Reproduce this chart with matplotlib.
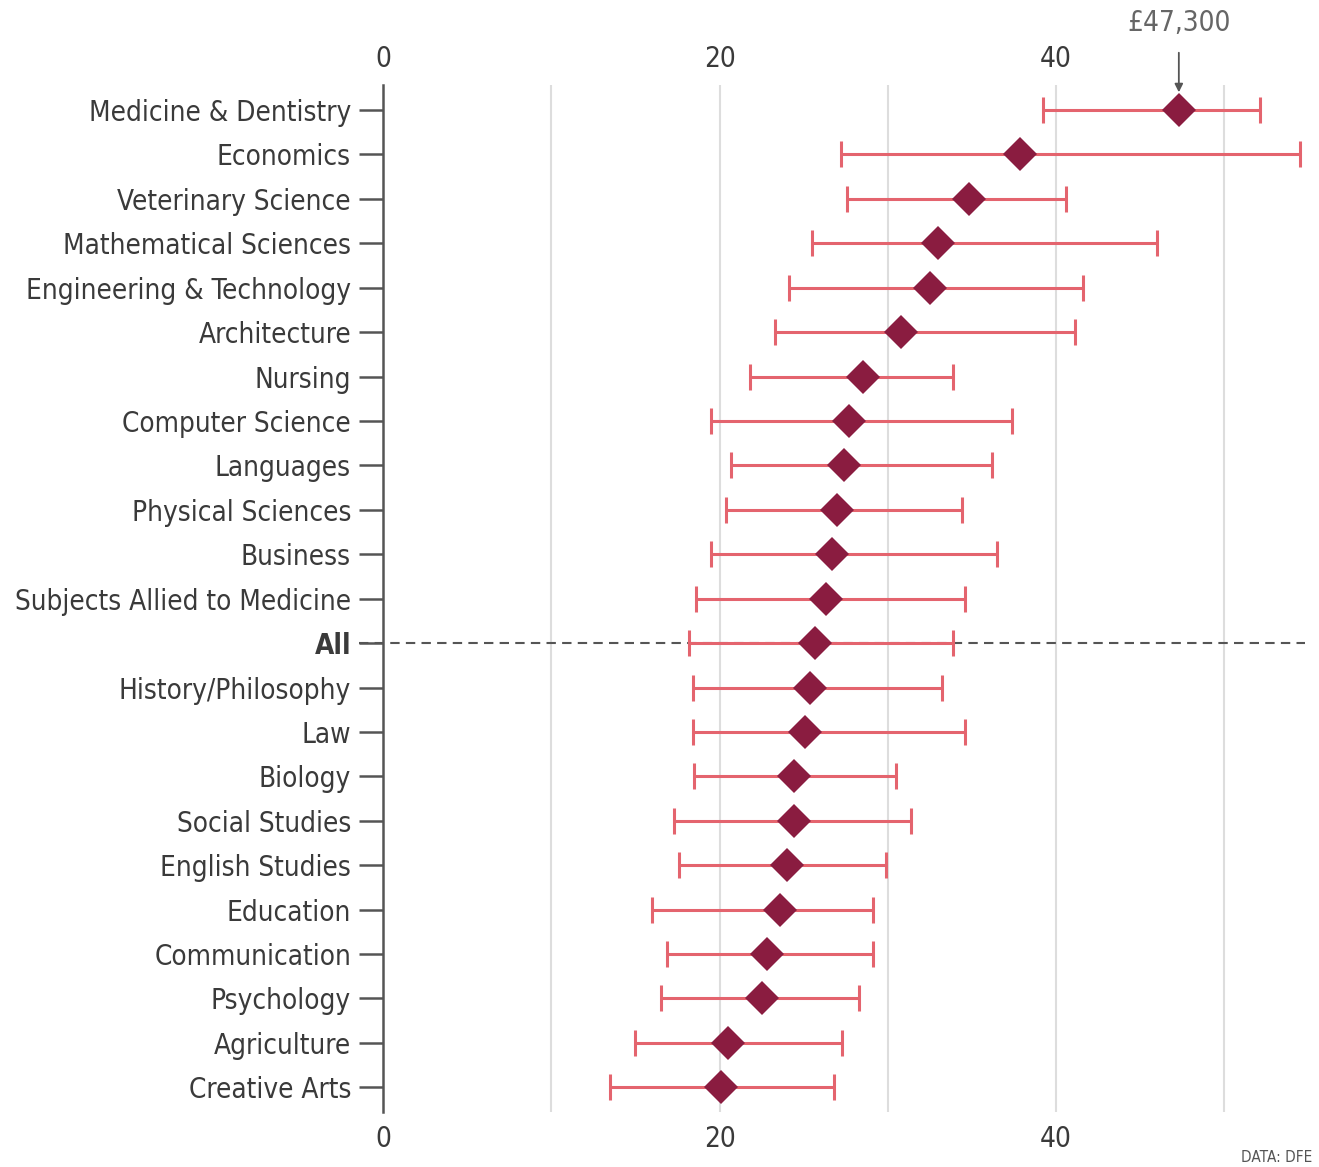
import matplotlib
matplotlib.use('Agg')
import matplotlib.pyplot as plt

# salary after graduation by subject, £ thousand (median and range)
subjects = ['Medicine & Dentistry', 'Economics', 'Veterinary Science', 'Mathematical Sciences',
            'Engineering & Technology', 'Architecture', 'Nursing', 'Computer Science',
            'Languages', 'Physical Sciences', 'Business', 'Subjects Allied to Medicine',
            'All', 'History/Philosophy', 'Law', 'Biology', 'Social Studies',
            'English Studies', 'Education', 'Communication', 'Psychology',
            'Agriculture', 'Creative Arts']
median = [47.3, 37.85, 34.8, 33.0, 32.5, 30.8, 28.5, 27.7, 27.4, 27.0, 26.7, 26.3,
          25.7, 25.4, 25.1, 24.4, 24.4, 24.0, 23.6, 22.8, 22.5, 20.5, 20.1]
low = [39.2, 27.2, 27.6, 25.5, 24.1, 23.3, 21.8, 19.5, 20.7, 20.4, 19.5, 18.6,
       18.2, 18.4, 18.4, 18.5, 17.3, 17.6, 16.0, 16.9, 16.5, 15.0, 13.5]
high = [52.1, 54.5, 40.6, 46.0, 41.6, 41.1, 33.9, 37.4, 36.2, 34.4, 36.5, 34.6,
        33.9, 33.2, 34.6, 30.5, 31.4, 29.9, 29.1, 29.1, 28.3, 27.3, 26.8]

plt.rcParams['font.family'] = ['DejaVu Sans']
plt.rcParams['font.stretch'] = 'condensed'

fig = plt.figure(figsize=(13.19, 11.67), dpi=100)
ax = fig.add_axes([0.2904, 0.047, 0.699, 0.88])

ypos = list(range(len(subjects)))
xmax = 54.8

# grid
for g in [10, 20, 30, 40, 50]:
    ax.axvline(g, color='#dddddd', lw=1.5, zorder=0)

# dashed line for "All"
i_all = subjects.index('All')
ax.plot([-1.4, xmax], [i_all, i_all], ls=(0, (4.5, 3)), color='#555555', lw=1.5,
        clip_on=False, zorder=1)

err = [[m - l for m, l in zip(median, low)], [h - m for m, h in zip(median, high)]]
_, caps, bars = ax.errorbar(median, ypos, xerr=err, fmt='none', ecolor='#e4646e',
                            elinewidth=2.2, capsize=9.5, capthick=2.2, zorder=2)
for c in caps:
    c.set_color('#d83a44')

ax.plot(median, ypos, 'D', color='#8a1c40', markersize=17.5, markeredgewidth=0, zorder=3)

ax.set_xlim(0, xmax)
ax.set_ylim(len(subjects) - 0.44, -0.56)

ax.set_yticks(ypos)
ax.set_yticklabels(subjects, fontsize=20, color='#3a3a3a')
ax.get_yticklabels()[i_all].set_fontweight('bold')
ax.tick_params(axis='y', length=17, width=1.8, color='#555555', pad=6)

ax.set_xticks([0, 20, 40])
ax.tick_params(axis='x', length=0, labelsize=20, labelcolor='#3a3a3a',
               top=True, labeltop=True, bottom=False, labelbottom=True, pad=9)

for s in ['top', 'right', 'bottom']:
    ax.spines[s].set_visible(False)
ax.spines['left'].set_color('#555555')
ax.spines['left'].set_linewidth(1.8)

ax.annotate('£47,300', xy=(median[0], -0.4), xytext=(median[0], -1.95),
            ha='center', va='center', fontsize=20, color='#666666',
            arrowprops=dict(arrowstyle='-|>', color='#555555', lw=1.3,
                            shrinkA=9, shrinkB=0, mutation_scale=12),
            annotation_clip=False)

fig.text(0.995, 0.002, 'DATA: DFE', ha='right', va='bottom', fontsize=11, color='#555555')

plt.savefig('out.png', dpi=100)
